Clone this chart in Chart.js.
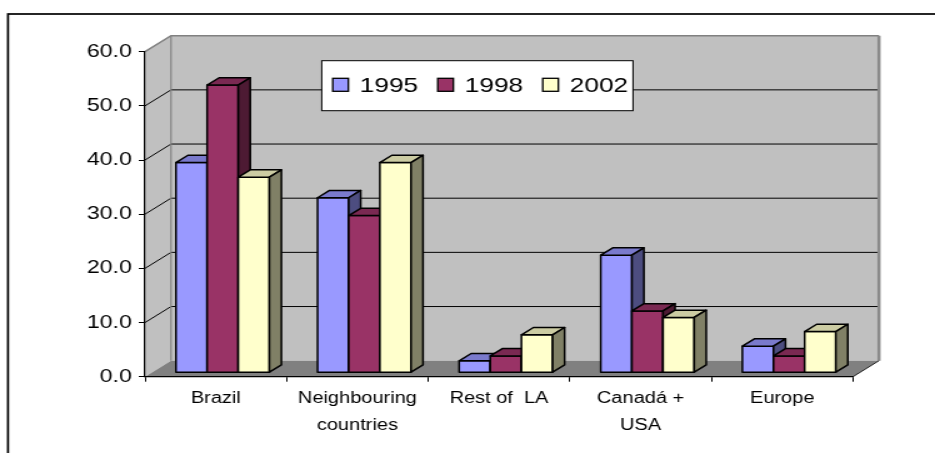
<!DOCTYPE html>
<html>
<head>
    <title>Exports by destination</title>
    <meta charset="UTF-8">
    <script src="https://cdn.jsdelivr.net/npm/chart.js@4.4.1/dist/chart.umd.min.js"></script>
    <style>
        html, body { margin: 0; padding: 0; background: #fff; overflow: hidden; }
        /* the chart is laid out narrow and stretched sideways */
        #wrap { width: 748px; height: 453px; transform: scaleX(1.25); transform-origin: 0 0; }
    </style>
</head>
<body>
<div id="wrap"><canvas id="myChart" width="748" height="453"></canvas></div>
<script>
    const categories = ['Brazil', ['Neighbouring', 'countries'], 'Rest of  LA', ['Canadá +', 'USA'], 'Europe'];
    const seriesLabels = ['1995', '1998', '2002'];
    const values1995 = [38.8, 32.3, 2.2, 21.7, 4.9];
    const values1998 = [53.1, 29.0, 3.1, 11.4, 3.1];
    const values2002 = [36.1, 38.8, 7.0, 10.2, 7.6];
    const yMin = 0, yMax = 60, yStep = 10;

    const frontColors = ['#9999FF', '#993366', '#FFFFCC'];
    const topColors = ['#7A7ACC', '#7A2952', '#CCCCA3'];
    const sideColors = ['#4D4D80', '#4D1A33', '#808066'];

    const FONT = '"Liberation Sans", Arial, sans-serif';
    // depth of the box (walls/floor) and of the bars
    const DX = 20.8, DY = -16;
    const SHIFT_X = 5.5, SHIFT_Y = -4;
    const BAR_DX = 9.6, BAR_DY = -7.3;

    function poly(ctx, pts, fill, stroke, lw) {
        ctx.beginPath();
        ctx.moveTo(pts[0][0], pts[0][1]);
        for (let i = 1; i < pts.length; i++) ctx.lineTo(pts[i][0], pts[i][1]);
        ctx.closePath();
        if (fill) { ctx.fillStyle = fill; ctx.fill(); }
        if (stroke) { ctx.strokeStyle = stroke; ctx.lineWidth = lw || 1; ctx.stroke(); }
    }

    function line(ctx, pts, color, lw) {
        ctx.beginPath();
        ctx.moveTo(pts[0][0], pts[0][1]);
        for (let i = 1; i < pts.length; i++) ctx.lineTo(pts[i][0], pts[i][1]);
        ctx.strokeStyle = color;
        ctx.lineWidth = lw;
        ctx.stroke();
    }

    const box3d = {
        id: 'box3d',
        beforeDraw(chart) {
            const ctx = chart.ctx;
            const a = chart.chartArea;
            const y = chart.scales.y;
            ctx.save();
            ctx.lineJoin = 'miter';
            // outer frame
            ctx.strokeStyle = '#000';
            ctx.lineWidth = 1.7;
            ctx.strokeRect(6.4, 14, 900, 600);

            // left wall, back wall, floor
            poly(ctx, [[a.left, a.bottom], [a.left, a.top], [a.left + DX, a.top + DY], [a.left + DX, a.bottom + DY]], '#C0C0C0');
            poly(ctx, [[a.left + DX, a.top + DY], [a.right + DX, a.top + DY], [a.right + DX, a.bottom + DY], [a.left + DX, a.bottom + DY]], '#C0C0C0');
            poly(ctx, [[a.left, a.bottom], [a.right, a.bottom], [a.right + DX, a.bottom + DY], [a.left + DX, a.bottom + DY]], '#808080');

            // gridlines across the left wall and the back wall
            y.ticks.forEach(t => {
                if (t.value <= yMin || t.value >= yMax) return;
                const yy = y.getPixelForValue(t.value);
                line(ctx, [[a.left, yy], [a.left + DX, yy + DY], [a.right + DX, yy + DY]], '#000', 1);
            });

            // wall edges
            line(ctx, [[a.left, a.top], [a.left + DX, a.top + DY], [a.right + DX, a.top + DY]], '#808080', 1.5);
            line(ctx, [[a.right + DX, a.top + DY], [a.right + DX, a.bottom + DY]], '#8A8A8A', 2.5);
            line(ctx, [[a.left + DX, a.top + DY], [a.left + DX, a.bottom + DY]], '#808080', 1.2);
            line(ctx, [[a.right, a.bottom], [a.right + DX, a.bottom + DY]], '#222', 1);
            ctx.restore();
        },
        beforeDatasetsDraw(chart) {
            chart.ctx.save();
            chart.ctx.translate(SHIFT_X, SHIFT_Y);
        },
        afterDatasetsDraw(chart) {
            const ctx = chart.ctx;
            ctx.lineJoin = 'round';
            const n = chart.data.datasets.length;
            // go left to right so each bar's front covers its neighbour's side
            for (let i = 0; i < categories.length; i++) {
                for (let d = 0; d < n; d++) {
                    const el = chart.getDatasetMeta(d).data[i];
                    const x1 = el.x - el.width / 2, x2 = el.x + el.width / 2;
                    const top = el.y, base = el.base;
                    poly(ctx, [[x1, base], [x1, top], [x2, top], [x2, base]], frontColors[d], '#000', 1.5);
                    poly(ctx, [[x1, top], [x1 + BAR_DX, top + BAR_DY], [x2 + BAR_DX, top + BAR_DY], [x2, top]], topColors[d], '#000', 1.5);
                    poly(ctx, [[x2, top], [x2 + BAR_DX, top + BAR_DY], [x2 + BAR_DX, base + BAR_DY], [x2, base]], sideColors[d], '#000', 1.5);
                }
            }
            ctx.restore();
        },
        afterDraw(chart) {
            // legend box inside the plot
            const ctx = chart.ctx;
            ctx.save();
            const bx = 257.4, by = 60.7, bw = 249, bh = 50;
            ctx.fillStyle = '#fff';
            ctx.fillRect(bx, by, bw, bh);
            ctx.strokeStyle = '#000';
            ctx.lineWidth = 1;
            ctx.strokeRect(bx, by, bw, bh);
            ctx.font = '21px ' + FONT;
            ctx.textBaseline = 'alphabetic';
            ctx.fillStyle = '#000';
            chart.data.datasets.forEach((ds, d) => {
                const sx = bx + 8.8 + d * 84;
                ctx.fillStyle = ds.backgroundColor;
                ctx.fillRect(sx, 78.3, 12.5, 13);
                ctx.strokeStyle = '#000';
                ctx.lineWidth = 1.3;
                ctx.strokeRect(sx, 78.3, 12.5, 13);
                ctx.fillStyle = '#000';
                ctx.fillText(ds.label, sx + 21.6, 91.5);
            });
            ctx.restore();
        }
    };

    let ctx = document.getElementById('myChart').getContext('2d');
    let myChart = new Chart(ctx, {
        type: 'bar',
        data: {
            labels: categories,
            datasets: [
                { label: seriesLabels[0], data: values1995, backgroundColor: frontColors[0] },
                { label: seriesLabels[1], data: values1998, backgroundColor: frontColors[1] },
                { label: seriesLabels[2], data: values2002, backgroundColor: frontColors[2] }
            ]
        },
        options: {
            responsive: false,
            animation: false,
            layout: { padding: { top: 51.7, right: 65.6, left: 0, bottom: 0 } },
            datasets: { bar: { categoryPercentage: 0.66, barPercentage: 1, borderWidth: 0 } },
            plugins: { legend: { display: false }, tooltip: { enabled: false } },
            scales: {
                x: {
                    afterFit: scale => { scale.height = 76.3; },
                    grid: { drawOnChartArea: false, tickLength: 5, color: '#000', offset: true },
                    border: { color: '#000', width: 1.2 },
                    ticks: {
                        color: '#000', padding: 3,
                        maxRotation: 0, autoSkip: false,
                        font: { family: FONT, size: 16, lineHeight: 1.7 }
                    }
                },
                y: {
                    min: yMin, max: yMax,
                    afterFit: scale => { scale.width = 116; },
                    grid: { drawOnChartArea: false, tickLength: 5, color: '#000' },
                    border: { color: '#000', width: 1.2 },
                    ticks: {
                        stepSize: yStep, color: '#000', padding: 5.5,
                        font: { family: FONT, size: 18.5 },
                        callback: v => v.toFixed(1)
                    }
                }
            }
        },
        plugins: [box3d]
    });
</script>
</body>
</html>
